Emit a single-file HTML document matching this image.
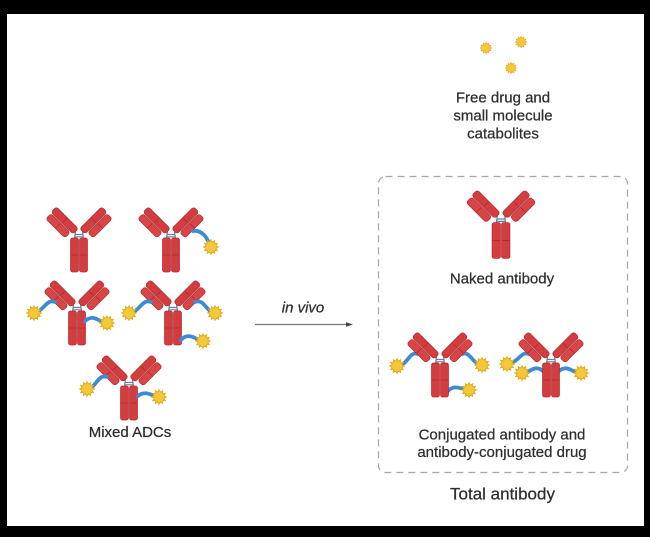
<!DOCTYPE html>
<html>
<head>
<meta charset="utf-8">
<style>
  html,body{margin:0;padding:0;background:#000;}
  svg{display:block;}
  text{font-family:"Liberation Sans", "DejaVu Sans", sans-serif;fill:#2e2e2e;stroke:#2e2e2e;stroke-width:0.25;}
</style>
</head>
<body>
<svg width="650" height="537" viewBox="0 0 650 537" xmlns="http://www.w3.org/2000/svg">
  <rect x="0" y="0" width="650" height="537" fill="#000"/>
  <rect x="7" y="14" width="637" height="512" fill="#fff"/>
  <defs>
    <g id="arm">
      <g transform="translate(-6,29) rotate(-135)">
        <rect x="0" y="0" width="31" height="7.5" rx="2.6" fill="#d43d3f" stroke="#ad2d2f" stroke-width="0.7"/>
        <line x1="15.5" y1="0.6" x2="15.5" y2="6.9" stroke="#a82a2c" stroke-width="0.7"/>
        <rect x="3" y="-8.5" width="27" height="7.5" rx="2.6" fill="#d94446" stroke="#ad2d2f" stroke-width="0.7"/>
        <line x1="16.5" y1="-7.9" x2="16.5" y2="-1.6" stroke="#a82a2c" stroke-width="0.7"/>
      </g>
    </g>
    <g id="ab">
      <path d="M-3.5,26 L-4.5,34 M3.5,26 L4.5,34 M-4,29.5 H4 M-4,31.8 H4" stroke="#6b7f96" stroke-width="1.2" fill="none"/>
      <use href="#arm"/>
      <use href="#arm" transform="scale(-1,1)"/>
      <rect x="-8.5" y="33" width="8" height="34" rx="2" fill="#d43d3f" stroke="#ad2d2f" stroke-width="0.7"/>
      <rect x="0.5" y="33" width="8" height="34" rx="2" fill="#d43d3f" stroke="#ad2d2f" stroke-width="0.7"/>
      <line x1="-8" y1="50" x2="-1" y2="50" stroke="#a82a2c" stroke-width="0.7"/>
      <line x1="1" y1="50" x2="8" y2="50" stroke="#a82a2c" stroke-width="0.7"/>
    </g>
    <g id="drug0">
      <polygon points="7,0 4.64,1.24 6.06,3.5 3.39,3.39 3.5,6.06 1.24,4.64 0,7 -1.24,4.64 -3.5,6.06 -3.39,3.39 -6.06,3.5 -4.64,1.24 -7,0 -4.64,-1.24 -6.06,-3.5 -3.39,-3.39 -3.5,-6.06 -1.24,-4.64 0,-7 1.24,-4.64 3.5,-6.06 3.39,-3.39 6.06,-3.5 4.64,-1.24" fill="#efbe2c" stroke="#d9a420" stroke-width="0.5"/>
      <circle cx="0" cy="0" r="4.3" fill="#f3c93a"/>
    </g>
    <g id="drug"><use href="#drug0" transform="scale(1.1)"/></g>
  </defs>

  <!-- Left cluster: Mixed ADCs -->
  <use href="#ab" transform="translate(79,205)"/>
  <use href="#ab" transform="translate(171,205)"/>
  <use href="#ab" transform="translate(77,278)"/>
  <use href="#ab" transform="translate(173,278)"/>
  <use href="#ab" transform="translate(129,353)"/>

  <g fill="none" stroke="#3d8bd2" stroke-width="3.8" stroke-linecap="round">
    <path d="M193,231 C199,230 205,234 208,241"/>
    <path d="M55,302 C48,299 45,307 39,311"/>
    <path d="M85,321 C92,315 97,319 102,322"/>
    <path d="M151,302 C144,299 141,307 135,311"/>
    <path d="M195,302 C202,299 205,307 210,311"/>
    <path d="M181,340 C186,334 192,336 197,339"/>
    <path d="M107,377 C100,374 97,383 92,387"/>
    <path d="M138,396 C144,391 150,394 154,396"/>
    <path d="M418,354 C411,351 408,361 403,364"/>
    <path d="M462,354 C469,351 472,361 477,363"/>
    <path d="M448,391 C454,385 459,388 464,389"/>
    <path d="M529,354 C522,351 519,360 513,362"/>
    <path d="M543,371 C537,366 532,369 528,372"/>
    <path d="M559,371 C565,366 570,369 575,372"/>
  </g>

  <use href="#drug" transform="translate(211,247)"/>
  <use href="#drug" transform="translate(34,313)"/>
  <use href="#drug" transform="translate(107,323)"/>
  <use href="#drug" transform="translate(129,313)"/>
  <use href="#drug" transform="translate(215,313)"/>
  <use href="#drug" transform="translate(203,341)"/>
  <use href="#drug" transform="translate(87,389)"/>
  <use href="#drug" transform="translate(159,397)"/>

  <text x="130" y="437" font-size="15" text-anchor="middle">Mixed ADCs</text>

  <!-- Arrow -->
  <text x="303" y="312.5" font-size="15" font-style="italic" text-anchor="middle">in vivo</text>
  <line x1="255" y1="324.5" x2="348" y2="324.5" stroke="#777" stroke-width="1.2"/>
  <polygon points="346,322.2 353,324.5 346,326.8" fill="#444"/>

  <!-- Free drug -->
  <use href="#drug0" transform="translate(486,48) scale(0.85)"/>
  <use href="#drug0" transform="translate(521,42) scale(0.85)"/>
  <use href="#drug0" transform="translate(511,68) scale(0.85)"/>
  <text x="503" y="102.5" font-size="15" text-anchor="middle">Free drug and</text>
  <text x="503" y="120.5" font-size="15" text-anchor="middle">small molecule</text>
  <text x="503" y="138.5" font-size="15" text-anchor="middle">catabolites</text>

  <!-- Dashed box -->
  <rect x="378.5" y="176.5" width="249" height="296" rx="7" fill="none" stroke="#a8a8a8" stroke-width="1.2" stroke-dasharray="7 5"/>

  <use href="#ab" transform="translate(501,188) scale(1.05)"/>
  <text x="502" y="283.5" font-size="15" text-anchor="middle">Naked antibody</text>

  <use href="#ab" transform="translate(440,330)"/>
  <use href="#ab" transform="translate(551,330)"/>
  <use href="#drug" transform="translate(397,366)"/>
  <use href="#drug" transform="translate(482,365)"/>
  <use href="#drug" transform="translate(469,390)"/>
  <use href="#drug" transform="translate(507,364)"/>
  <use href="#drug" transform="translate(522,373)"/>
  <use href="#drug" transform="translate(581,373)"/>

  <text x="502" y="439.5" font-size="15" text-anchor="middle">Conjugated antibody and</text>
  <text x="502" y="457" font-size="15" text-anchor="middle">antibody-conjugated drug</text>

  <text x="502.5" y="499.5" font-size="17" text-anchor="middle">Total antibody</text>
</svg>
</body>
</html>
